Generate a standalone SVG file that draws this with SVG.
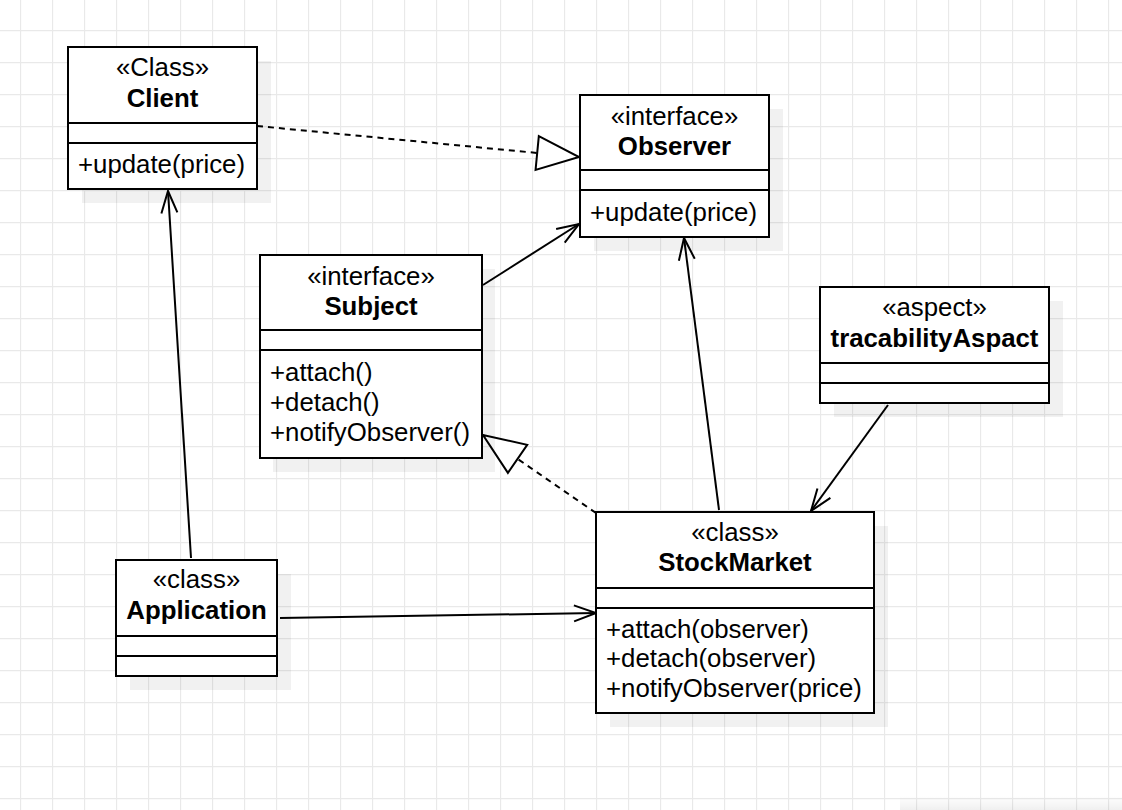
<svg xmlns="http://www.w3.org/2000/svg" width="1122" height="810" viewBox="0 0 1122 810">
  <defs>
    <pattern id="grid" patternUnits="userSpaceOnUse" x="20" y="30" width="32" height="32">
      <path d="M0.5 0 V32 M0 0.5 H32" stroke="#e9e9e9" stroke-width="1.3" fill="none"/>
    </pattern>
    <linearGradient id="bshadow" x1="0" y1="0" x2="0" y2="1">
      <stop offset="0" stop-color="#000" stop-opacity="0"/>
      <stop offset="1" stop-color="#000" stop-opacity="0.06"/>
    </linearGradient>
    <marker id="open" markerUnits="userSpaceOnUse" markerWidth="40" markerHeight="40" viewBox="-30 -20 40 40" refX="0" refY="0" orient="auto">
      <path d="M-22 -8 L0 0 L-22 8" fill="none" stroke="#000" stroke-width="2"/>
    </marker>
    <marker id="tri" markerUnits="userSpaceOnUse" markerWidth="60" markerHeight="60" viewBox="-50 -25 60 50" refX="0" refY="0" orient="auto">
      <path d="M-42 -17 L0 0 L-42 17 Z" fill="#fff" stroke="#000" stroke-width="2"/>
    </marker>
  </defs>
  <style>
    .box { fill: #fff; stroke: #000; stroke-width: 2; }
    .shadow { fill: #000; fill-opacity: 0.055; stroke: none; }
    .sep { stroke: #000; stroke-width: 2; }
    text { font-family: "Liberation Sans", Arial, sans-serif; font-size: 25.8px; fill: #000; }
    .c { text-anchor: middle; }
    .b { font-weight: bold; }
    .edge { fill: none; stroke: #000; stroke-width: 2; }
    .dash { stroke-dasharray: 6 5; }
  </style>
  <rect width="1122" height="810" fill="#fff"/>
  <rect width="1122" height="810" fill="url(#grid)"/>
  <rect x="900" y="796" width="222" height="14" fill="url(#bshadow)"/>

  <g id="connectors">
    <path class="edge dash" d="M257 126 L579 157" marker-end="url(#tri)"/>
    <path class="edge" d="M483 285 L579 224" marker-end="url(#open)"/>
    <path class="edge" d="M719 510 L684 238" marker-end="url(#open)"/>
    <path class="edge dash" d="M596 513 L483 435" marker-end="url(#tri)"/>
    <path class="edge" d="M888 405 L811 511" marker-end="url(#open)"/>
    <path class="edge" d="M280 618 L596 613" marker-end="url(#open)"/>
    <path class="edge" d="M191 558 L168 191" marker-end="url(#open)"/>
  </g>

  <g id="client">
    <rect class="shadow" x="82" y="61" width="189" height="142"/>
    <rect class="box" x="68" y="47" width="189" height="142"/>
    <path class="sep" d="M68 123 H258 M68 143 H258"/>
    <text class="c" x="162.5" y="76">«Class»</text>
    <text class="c b" x="162.5" y="107">Client</text>
    <text x="78" y="173">+update(price)</text>
  </g>

  <g id="observer">
    <rect class="shadow" x="594" y="109" width="189" height="142"/>
    <rect class="box" x="580" y="95" width="189" height="142"/>
    <path class="sep" d="M580 170 H770 M580 190 H770"/>
    <text class="c" x="674.5" y="125">«interface»</text>
    <text class="c b" x="674.5" y="155">Observer</text>
    <text x="590" y="221">+update(price)</text>
  </g>

  <g id="subject">
    <rect class="shadow" x="273" y="269" width="222" height="203"/>
    <rect class="box" x="260" y="255" width="222" height="203"/>
    <path class="sep" d="M260 330 H483 M260 350 H483"/>
    <text class="c" x="371" y="285">«interface»</text>
    <text class="c b" x="371" y="315">Subject</text>
    <text x="270" y="381">+attach()</text>
    <text x="270" y="411">+detach()</text>
    <text x="270" y="441">+notifyObserver()</text>
  </g>

  <g id="tracabilityAspact">
    <rect class="shadow" x="834" y="301" width="229" height="116"/>
    <rect class="box" x="820" y="287" width="229" height="116"/>
    <path class="sep" d="M820 363 H1050 M820 383 H1050"/>
    <text class="c" x="934.5" y="316">«aspect»</text>
    <text class="c b" x="934.5" y="347">tracabilityAspact</text>
  </g>

  <g id="stockmarket">
    <rect class="shadow" x="610" y="526" width="278" height="201"/>
    <rect class="box" x="596" y="512" width="278" height="201"/>
    <path class="sep" d="M596 588 H875 M596 608 H875"/>
    <text class="c" x="735" y="541">«class»</text>
    <text class="c b" x="735" y="571">StockMarket</text>
    <text x="606" y="638">+attach(observer)</text>
    <text x="606" y="667">+detach(observer)</text>
    <text x="606" y="697">+notifyObserver(price)</text>
  </g>

  <g id="application">
    <rect class="shadow" x="130" y="574" width="161" height="116"/>
    <rect class="box" x="116" y="560" width="161" height="116"/>
    <path class="sep" d="M116 636 H278 M116 656 H278"/>
    <text class="c" x="196.5" y="588">«class»</text>
    <text class="c b" x="196.5" y="619">Application</text>
  </g>
</svg>
